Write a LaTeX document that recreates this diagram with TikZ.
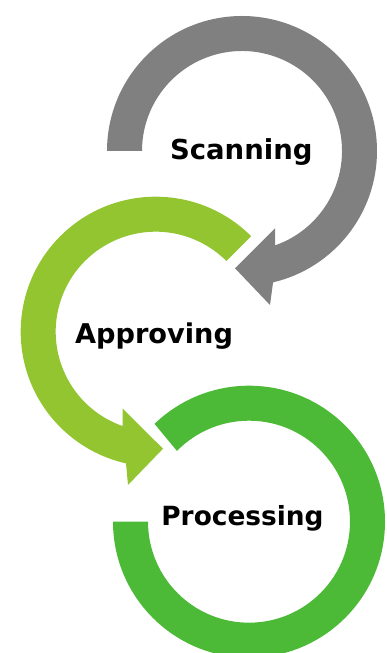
\documentclass[tikz,border=0pt]{standalone}
\usepackage{fontspec}
\newfontfamily\lblfont{DejaVu Sans}
\definecolor{scangray}{HTML}{808080}
\definecolor{approvelime}{HTML}{92C52F}
\definecolor{processgreen}{HTML}{4CBA36}
\begin{document}
\begin{tikzpicture}[x=1pt,y=1pt,
  lbl/.style={anchor=base,font=\lblfont\bfseries,text=black,inner sep=0pt}]
\useasboundingbox (0,0) rectangle (387,653);
% Scanning (gray, clockwise, arrowhead at bottom)
\fill[scangray] (107,502) arc[start angle=180,end angle=-76.7,radius=135pt]
  -- (270,348) -- (235,384.7) -- (275,424.7)
  -- ([shift={(242,502)}]-70.7:100pt) arc[start angle=-70.7,end angle=180,radius=100pt] -- cycle;
% Approving (lime, counter-clockwise, arrowhead at bottom)
\fill[approvelime] ([shift={(155.7,321.3)}]45:135pt) arc[start angle=45,end angle=257.3,radius=135pt]
  -- (128,168) -- (163,204.3) -- (122.7,244.3)
  -- ([shift={(155.7,321.3)}]250.7:100pt) arc[start angle=250.7,end angle=45,radius=100pt] -- cycle;
% Processing (green, plain arc)
\fill[processgreen] (113,131.3) arc[start angle=180,end angle=494,radius=136pt]
  -- ([shift={(249,131.3)}]495.5:101pt) arc[start angle=495.5,end angle=180,radius=101pt] -- cycle;
\node[lbl] (scan) at (241.3,493) {\fontsize{27.5}{27.5}\selectfont Scanning};
\node[lbl] (approve) at (154,309.7) {\fontsize{27.2}{27.2}\selectfont Approving};
\node[lbl] (process) at (242.5,127.3) {\fontsize{26.4}{26.4}\selectfont Processing};
\end{tikzpicture}
\end{document}
